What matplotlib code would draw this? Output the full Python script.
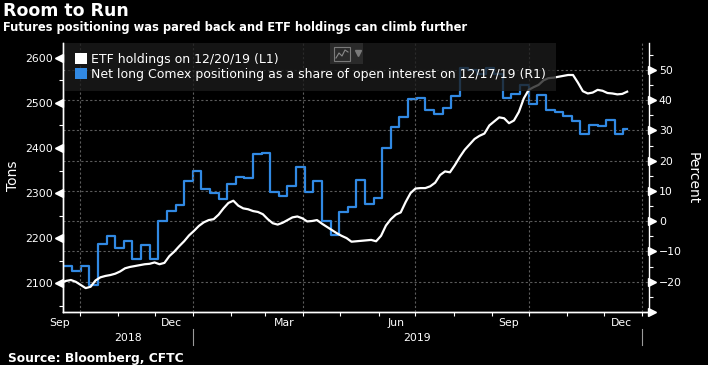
import matplotlib
matplotlib.use("Agg")
import matplotlib.pyplot as plt
import matplotlib.dates as mdates
import matplotlib.ticker as mticker
import matplotlib.transforms as mtransforms
from matplotlib.patches import Patch, Rectangle
from matplotlib.lines import Line2D
import numpy as np
import pandas as pd

# ETF holdings (tons, left axis), read every 4 days
etf_dates = pd.date_range("2018-09-16", periods=116, freq="4D")
etf_tons = [2101, 2105, 2107, 2103, 2096, 2089, 2092, 2106, 2113, 2116,
            2118, 2121, 2126, 2133, 2136, 2138, 2140, 2142, 2143, 2146,
            2142, 2145, 2160, 2170, 2182, 2193, 2206, 2216, 2227, 2235,
            2240, 2242, 2252, 2266, 2278, 2283, 2272, 2266, 2264, 2260,
            2258, 2253, 2242, 2233, 2230, 2234, 2240, 2246, 2248, 2244,
            2237, 2238, 2240, 2232, 2225, 2218, 2211, 2205, 2200, 2192,
            2193, 2194, 2195, 2196, 2193, 2205, 2228, 2242, 2252, 2257,
            2280, 2300, 2310, 2311, 2311, 2315, 2323, 2340, 2348, 2346,
            2362, 2380, 2396, 2408, 2420, 2427, 2432, 2450, 2459, 2468,
            2466, 2455, 2461, 2480, 2510, 2529, 2535, 2540, 2550, 2555,
            2556, 2558, 2560, 2562, 2562, 2545, 2526, 2521, 2523, 2529,
            2527, 2522, 2521, 2519, 2520, 2525]

# Comex net long as share of open interest (percent, right axis), weekly
cftc_dates = pd.date_range("2018-09-18", periods=66, freq="7D")
cftc_pct = [-14.8, -16.3, -14.8, -21.0, -7.4, -4.9, -8.7, -6.7, -12.6, -7.8,
            -12.4, 0.2, 3.3, 5.5, 13.3, 16.6, 10.8, 9.2, 7.3, 12.3,
            14.5, 14.2, 22.2, 22.7, 9.8, 8.4, 11.7, 18.0, 9.5, 13.3,
            0.0, -4.5, 3.0, 4.8, 13.6, 5.6, 7.7, 24.3, 31.0, 34.5,
            40.4, 40.8, 36.9, 35.4, 37.5, 41.5, 50.5, 50.0, 48.5, 50.5,
            48.8, 40.6, 42.0, 45.0, 38.6, 41.8, 36.8, 36.0, 34.8, 33.2,
            28.7, 31.8, 31.4, 33.3, 28.7, 30.5]
last_date = pd.Timestamp("2019-12-20")

month_labels = ["Sep", "Dec", "Mar", "Jun", "Sep", "Dec"]
month_label_dates = pd.to_datetime(["2018-09-15", "2018-12-15", "2019-03-16",
                                    "2019-06-15", "2019-09-15", "2019-12-15"])
year_labels = ["2018", "2019"]
year_breaks = pd.to_datetime(["2019-01-01", "2020-01-01"])

left_ticks = [2100, 2200, 2300, 2400, 2500, 2600]
right_ticks = [-20, -10, 0, 10, 20, 30, 40, 50]

BLUE = "#3189e3"
W, H = 708, 365


def fx(px):
    return px / W


def fy(py):
    return 1 - py / H


fig = plt.figure(figsize=(W / 100, H / 100), dpi=100, facecolor="black")
ax = fig.add_axes([fx(63), fy(312), (648.5 - 63) / W, (312 - 43) / H])
ax2 = ax.twinx()
ax.set_zorder(ax2.get_zorder() + 1)
ax.patch.set_visible(False)
ax2.set_facecolor("black")

xmin = pd.Timestamp("2018-09-17 14:00")
xmax = pd.Timestamp("2020-01-06 08:00")

# lines
ax2.plot(np.append(cftc_dates.values, np.datetime64(last_date)),
         np.append(cftc_pct, cftc_pct[-1]),
         drawstyle="steps-post", color=BLUE, lw=1.6)
ax.plot(etf_dates, etf_tons, color="white", lw=1.6)

ax.set_xlim(xmin, xmax)
ax.set_ylim(2036, 2633)
ax2.set_ylim(-30, 58.9)

# x axis
ax.xaxis.set_major_locator(mdates.MonthLocator(bymonth=[1, 4, 7, 10]))
ax.xaxis.set_minor_locator(mdates.MonthLocator())
ax.xaxis.set_major_formatter(mticker.NullFormatter())
ax.xaxis.set_minor_formatter(mticker.NullFormatter())
ax.tick_params(axis="x", which="both", direction="out", length=3,
               color="white", width=0.8)
ax.grid(axis="x", which="major", color="#5c5c5c", linestyle=(0, (2, 2)), lw=0.8)

xtrans = mtransforms.blended_transform_factory(ax.transData, ax.transAxes)
for d, lab in zip(month_label_dates, month_labels):
    ax.text(d, -0.04, lab, transform=xtrans, color="white", fontsize=7.8,
            ha="center", va="center")
year_starts = [xmin] + list(year_breaks[:-1])
for s, e, lab in zip(year_starts, year_breaks, year_labels):
    mid = s + (e - s) / 2
    ax.text(mid, -0.097, lab, transform=xtrans, color="white", fontsize=7.8,
            ha="center", va="center")
for d in year_breaks:
    ax.plot([d, d], [-0.063, -0.123], transform=xtrans, color="#9a9a9a",
            lw=0.8, clip_on=False)

# left axis
ax.yaxis.set_major_locator(mticker.FixedLocator(left_ticks))
ax.yaxis.set_minor_locator(mticker.MultipleLocator(50))
ax.tick_params(axis="y", which="major", length=0, pad=7.5, colors="white",
               labelsize=7.8)
ax.tick_params(axis="y", which="minor", length=3, width=0.8, color="white")
left_off = mtransforms.ScaledTranslation(-3.8 / 100, 0, fig.dpi_scale_trans)
ltrans = mtransforms.blended_transform_factory(ax.transAxes, ax.transData) + left_off
ax.plot([0] * len(left_ticks), left_ticks, ls="none", marker="<", ms=5.5,
        color="white", transform=ltrans, clip_on=False)
ax.set_ylabel("Tons", color="white", fontsize=10)
ax.yaxis.set_label_coords(-0.073, 0.506)

# right axis
ax2.yaxis.set_major_locator(mticker.FixedLocator(right_ticks))
ax2.yaxis.set_minor_locator(mticker.MultipleLocator(5))
ax2.tick_params(axis="y", which="major", length=0, pad=7.5, colors="white",
                labelsize=7.8)
ax2.tick_params(axis="y", which="minor", length=3, width=0.8, color="white")
right_off = mtransforms.ScaledTranslation(3.8 / 100, 0, fig.dpi_scale_trans)
rtrans = mtransforms.blended_transform_factory(ax2.transAxes, ax2.transData) + right_off
ax2.plot([1] * (len(right_ticks) + 1), right_ticks + [-30], ls="none", marker=">",
         ms=5.5, color="white", transform=rtrans, clip_on=False)
ax2.set_ylabel("Percent", color="white", fontsize=10, rotation=270)
ax2.yaxis.set_label_coords(1.087, 0.498)
ax2.grid(axis="y", which="major", color="#5c5c5c", linestyle=(0, (2, 2)), lw=0.8)

for a in (ax, ax2):
    a.spines["top"].set_visible(False)
    for s in ("left", "right", "bottom"):
        a.spines[s].set_color("white")
        a.spines[s].set_linewidth(1.0)
ax.spines["right"].set_visible(False)

# legend
handles = [Patch(facecolor="white", edgecolor="none"),
           Patch(facecolor=BLUE, edgecolor="none")]
labels = ["ETF holdings on 12/20/19 (L1)",
          "Net long Comex positioning as a share of open interest on 12/17/19 (R1)"]
leg = ax.legend(handles, labels, loc="upper left", bbox_to_anchor=(0.0035, 1.0),
                borderaxespad=0, handlelength=0.95, handleheight=0.95,
                handletextpad=0.35, labelspacing=0.15, borderpad=0.8,
                fontsize=9, frameon=True, fancybox=False, facecolor="#1c1c1c",
                edgecolor="none", framealpha=0.78, labelcolor="white")
leg.set_zorder(10)

# chart-type icon in the legend
fig.add_artist(Rectangle((fx(330), fy(64)), fx(363) - fx(330), fy(43) - fy(64),
                         transform=fig.transFigure, facecolor="#2a2a2a",
                         edgecolor="none", zorder=11))
fig.add_artist(Rectangle((fx(334), fy(61)), fx(350) - fx(334), fy(47) - fy(61),
                         transform=fig.transFigure, facecolor="none",
                         edgecolor="#7a7a7a", lw=0.8, zorder=12))
fig.add_artist(Line2D([fx(336), fx(339), fx(342), fx(345), fx(348)],
                      [fy(58), fy(53), fy(56), fy(50), fy(52)],
                      transform=fig.transFigure, color="#8a8a8a", lw=0.8, zorder=12))
fig.add_artist(Line2D([fx(357.5)], [fy(53)], transform=fig.transFigure,
                      marker="v", ms=4, color="#7a7a7a", ls="none", zorder=12))

# titles
fig.text(fx(3), fy(16), "Room to Run", color="white", fontsize=12.5,
         fontweight="bold", va="baseline")
fig.text(fx(3), fy(31.5),
         "Futures positioning was pared back and ETF holdings can climb further",
         color="white", fontsize=8.3, fontweight="bold", va="baseline")
fig.text(fx(8), fy(362), "Source: Bloomberg, CFTC", color="white", fontsize=8.8,
         fontweight="bold", va="baseline")

fig.savefig("out.png", dpi=100, facecolor="black")
